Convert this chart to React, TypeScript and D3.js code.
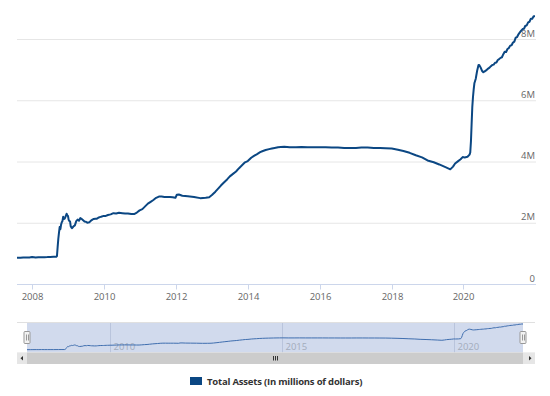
import React from "react";
import * as d3 from "d3";

// Fed balance sheet, total assets, millions of dollars
const totalAssets: [string, number][] = [
  ["2007-08-01", 870000], ["2007-09-05", 872000], ["2007-10-03", 880000], ["2007-11-07", 884000],
  ["2007-12-05", 883000], ["2008-01-02", 900000], ["2008-02-06", 885000], ["2008-03-05", 893000],
  ["2008-04-02", 889000], ["2008-05-07", 893000], ["2008-06-04", 895000], ["2008-07-02", 899000],
  ["2008-08-06", 903000], ["2008-09-03", 905000], ["2008-09-10", 928000], ["2008-09-17", 1225000],
  ["2008-09-24", 1499000], ["2008-10-01", 1700000], ["2008-10-08", 1880000], ["2008-10-15", 1805000],
  ["2008-10-22", 1955000], ["2008-10-29", 2030000], ["2008-11-05", 2070000], ["2008-11-12", 2210000],
  ["2008-11-19", 2140000], ["2008-11-26", 2145000], ["2008-12-03", 2190000], ["2008-12-10", 2250000],
  ["2008-12-17", 2310000], ["2008-12-24", 2260000], ["2008-12-31", 2240000], ["2009-01-07", 2110000],
  ["2009-01-14", 2070000], ["2009-01-21", 2060000], ["2009-01-28", 1900000], ["2009-02-04", 1860000],
  ["2009-02-11", 1840000], ["2009-02-25", 1900000], ["2009-03-11", 1930000], ["2009-03-25", 2070000],
  ["2009-04-08", 2120000], ["2009-04-22", 2080000], ["2009-05-06", 2170000], ["2009-05-20", 2140000],
  ["2009-06-03", 2100000], ["2009-06-17", 2060000], ["2009-07-01", 2050000], ["2009-07-15", 2020000],
  ["2009-08-05", 2030000], ["2009-08-19", 2080000], ["2009-09-02", 2110000], ["2009-09-16", 2140000],
  ["2009-10-07", 2150000], ["2009-10-21", 2150000], ["2009-11-04", 2180000], ["2009-11-18", 2200000],
  ["2009-12-02", 2210000], ["2009-12-30", 2240000], ["2010-01-20", 2240000], ["2010-02-10", 2270000],
  ["2010-03-10", 2290000], ["2010-04-07", 2330000], ["2010-05-05", 2320000], ["2010-06-02", 2340000],
  ["2010-07-07", 2330000], ["2010-08-04", 2320000], ["2010-09-01", 2320000], ["2010-10-06", 2300000],
  ["2010-11-03", 2300000], ["2010-12-01", 2350000], ["2010-12-29", 2420000], ["2011-01-26", 2460000],
  ["2011-02-23", 2550000], ["2011-03-23", 2640000], ["2011-04-20", 2700000], ["2011-05-18", 2760000],
  ["2011-06-15", 2830000], ["2011-07-13", 2870000], ["2011-08-10", 2870000], ["2011-09-07", 2860000],
  ["2011-10-05", 2860000], ["2011-11-02", 2860000], ["2011-11-30", 2850000], ["2011-12-28", 2830000],
  ["2012-01-11", 2930000], ["2012-02-01", 2940000], ["2012-03-07", 2900000], ["2012-05-02", 2880000],
  ["2012-07-04", 2860000], ["2012-09-05", 2820000], ["2012-10-31", 2830000], ["2012-12-05", 2850000],
  ["2013-01-02", 2920000], ["2013-02-06", 3030000], ["2013-03-06", 3130000], ["2013-04-03", 3230000],
  ["2013-05-01", 3320000], ["2013-06-05", 3430000], ["2013-07-03", 3530000], ["2013-08-07", 3620000],
  ["2013-09-04", 3690000], ["2013-10-02", 3790000], ["2013-11-06", 3900000], ["2013-12-04", 3990000],
  ["2014-01-01", 4030000], ["2014-02-05", 4140000], ["2014-03-05", 4200000], ["2014-04-02", 4250000],
  ["2014-05-07", 4320000], ["2014-06-04", 4360000], ["2014-07-02", 4390000], ["2014-08-06", 4420000],
  ["2014-09-03", 4440000], ["2014-10-01", 4460000], ["2014-11-05", 4480000], ["2014-12-03", 4490000],
  ["2015-01-07", 4500000], ["2015-03-04", 4480000], ["2015-05-06", 4480000], ["2015-07-01", 4490000],
  ["2015-09-02", 4480000], ["2015-11-04", 4480000], ["2016-01-06", 4480000], ["2016-03-02", 4480000],
  ["2016-05-04", 4470000], ["2016-07-06", 4470000], ["2016-09-07", 4460000], ["2016-11-02", 4460000],
  ["2017-01-04", 4460000], ["2017-03-01", 4470000], ["2017-05-03", 4470000], ["2017-07-05", 4460000],
  ["2017-09-06", 4460000], ["2017-11-01", 4450000], ["2018-01-03", 4440000], ["2018-03-07", 4400000],
  ["2018-05-02", 4360000], ["2018-07-04", 4300000], ["2018-09-05", 4220000], ["2018-11-07", 4150000],
  ["2019-01-02", 4050000], ["2019-03-06", 3990000], ["2019-05-01", 3920000], ["2019-07-03", 3830000],
  ["2019-08-21", 3760000], ["2019-09-18", 3850000], ["2019-10-09", 3950000], ["2019-11-06", 4020000],
  ["2019-12-04", 4090000], ["2019-12-25", 4160000], ["2020-01-15", 4150000], ["2020-02-12", 4170000],
  ["2020-03-04", 4240000], ["2020-03-11", 4310000], ["2020-03-18", 4670000], ["2020-03-25", 5250000],
  ["2020-04-01", 5810000], ["2020-04-08", 6130000], ["2020-04-15", 6370000], ["2020-04-22", 6570000],
  ["2020-05-06", 6720000], ["2020-05-20", 6980000], ["2020-06-03", 7170000], ["2020-06-10", 7170000],
  ["2020-06-24", 7090000], ["2020-07-08", 6980000], ["2020-07-22", 6930000], ["2020-08-05", 6960000],
  ["2020-08-19", 6990000], ["2020-09-09", 7050000], ["2020-09-23", 7080000], ["2020-10-07", 7130000],
  ["2020-10-21", 7170000], ["2020-11-04", 7180000], ["2020-11-18", 7240000], ["2020-12-02", 7250000],
  ["2020-12-16", 7330000], ["2020-12-30", 7360000], ["2021-01-13", 7400000], ["2021-01-27", 7420000],
  ["2021-02-10", 7520000], ["2021-02-24", 7600000], ["2021-03-10", 7590000], ["2021-03-24", 7690000],
  ["2021-04-07", 7720000], ["2021-04-21", 7800000], ["2021-05-05", 7810000], ["2021-05-19", 7900000],
  ["2021-06-02", 7930000], ["2021-06-16", 8060000], ["2021-06-30", 8080000], ["2021-07-14", 8170000],
  ["2021-07-28", 8230000], ["2021-08-11", 8290000], ["2021-08-25", 8340000], ["2021-09-08", 8350000],
  ["2021-09-22", 8450000], ["2021-10-06", 8460000], ["2021-10-20", 8560000], ["2021-11-03", 8580000],
  ["2021-11-17", 8680000], ["2021-12-01", 8680000], ["2021-12-15", 8760000], ["2021-12-29", 8760000],
];

const yTicks = [0, 2000000, 4000000, 6000000, 8000000];
const xTickYears = [2008, 2010, 2012, 2014, 2016, 2018, 2020];
const navTickYears = [2010, 2015, 2020];
const seriesName = "Total Assets (In millions of dollars)";

const W = 550;
const H = 396;
const FONT = "'Open Sans', 'DejaVu Sans', sans-serif";

const parse = d3.timeParse("%Y-%m-%d");
const points = totalAssets.map(([d, v]) => ({ date: parse(d) as Date, value: v }));

export default function App() {
  const extent = d3.extent(points, (p) => p.date) as [Date, Date];

  // main plot
  const plot = { left: 17, right: 536, top: 10, bottom: 284.5 };
  const x = d3.scaleTime().domain(extent).range([plot.left, 535]);
  const y = d3.scaleLinear().domain([0, 8000000]).range([plot.bottom, 39.5]);
  const line = d3
    .line<{ date: Date; value: number }>()
    .x((p) => x(p.date))
    .y((p) => y(p.value));

  // navigator
  const nav = { left: 17, right: 535, top: 322.5, bottom: 352.5 };
  const nx = d3.scaleTime().domain(extent).range([27, 523]);
  const ny = d3
    .scaleLinear()
    .domain([0, d3.max(points, (p) => p.value) as number])
    .range([nav.bottom, nav.top + 1.5]);
  const navLine = d3
    .line<{ date: Date; value: number }>()
    .x((p) => nx(p.date))
    .y((p) => ny(p.value));

  const yFmt = (v: number) => (v === 0 ? "0" : `${v / 1000000}M`);
  const sb = { top: 352.5, h: 11.5 };
  const thumbL = nx(extent[0]);
  const thumbR = nx(extent[1]);
  const gripX = (thumbL + thumbR) / 2;

  return (
    <svg
      width={W}
      height={H}
      style={{ position: "absolute", left: 0, top: 0, background: "#fff" }}
      fontFamily={FONT}
    >
      {/* grid + y labels */}
      {yTicks.map((t) => (
        <g key={t}>
          {t !== 0 && (
            <line x1={plot.left} x2={plot.right} y1={y(t)} y2={y(t)} stroke="#e6e6e6" strokeWidth={1} />
          )}
          <text x={535} y={y(t) - 3} textAnchor="end" fontSize={9.5} fill="#666">
            {yFmt(t)}
          </text>
        </g>
      ))}

      {/* x axis */}
      <line x1={plot.left} x2={plot.right} y1={plot.bottom} y2={plot.bottom} stroke="#ccd6eb" strokeWidth={1} />
      {xTickYears.map((yr) => {
        const px = Math.round(x(new Date(yr, 0, 1))) + 0.5;
        return (
          <g key={yr}>
            <line x1={px} x2={px} y1={plot.bottom} y2={plot.bottom + 5} stroke="#ccd6eb" />
            <text x={px} y={300} textAnchor="middle" fontSize={9.5} fill="#666">
              {yr}
            </text>
          </g>
        );
      })}

      {/* series */}
      <path d={line(points) ?? ""} fill="none" stroke="#0b4783" strokeWidth={2} strokeLinejoin="round" />

      {/* navigator */}
      <rect x={nav.left} y={nav.top} width={nav.right - nav.left} height={nav.bottom - nav.top} fill="#fff" />
      <rect
        x={thumbL}
        y={nav.top}
        width={thumbR - thumbL}
        height={nav.bottom - nav.top}
        fill="rgba(102,133,194,0.3)"
      />
      {navTickYears.map((yr) => {
        const px = Math.round(nx(new Date(yr, 0, 1))) + 0.5;
        return (
          <g key={yr}>
            <line x1={px} x2={px} y1={nav.top} y2={nav.bottom} stroke="#b9c4dc" strokeWidth={1} />
            <text x={px + 3} y={350} fontSize={9.5} fill="#a3acbc">
              {yr}
            </text>
          </g>
        );
      })}
      <path d={navLine(points) ?? ""} fill="none" stroke="#3f6eaf" strokeWidth={1} />
      <line x1={nav.left} x2={nav.right} y1={nav.top} y2={nav.top} stroke="#e0e0e0" />

      {/* handles */}
      {[thumbL, thumbR].map((hx, i) => (
        <g key={i}>
          <rect x={hx - 3} y={331.5} width={6} height={12} fill="#f2f2f2" stroke="#999" strokeWidth={1} rx={1} />
          <line x1={hx - 0.5} x2={hx - 0.5} y1={334.5} y2={340.5} stroke="#999" />
          <line x1={hx + 1.5} x2={hx + 1.5} y1={334.5} y2={340.5} stroke="#999" />
        </g>
      ))}

      {/* scrollbar */}
      <rect x={nav.left} y={sb.top} width={nav.right - nav.left} height={sb.h} fill="#f2f2f2" />
      <rect x={thumbL} y={sb.top} width={thumbR - thumbL} height={sb.h} fill="#cccccc" />
      <rect x={nav.left} y={sb.top} width={thumbL - nav.left} height={sb.h} fill="#e6e6e6" />
      <rect x={thumbR} y={sb.top} width={nav.right - thumbR} height={sb.h} fill="#e6e6e6" />
      <path
        d={`M${nav.left + 6},${sb.top + 3.5} L${nav.left + 6},${sb.top + 8} L${nav.left + 3.5},${sb.top + 5.75} Z`}
        fill="#333"
      />
      <path
        d={`M${nav.right - 6},${sb.top + 3.5} L${nav.right - 6},${sb.top + 8} L${nav.right - 3.5},${sb.top + 5.75} Z`}
        fill="#333"
      />
      {[-2, 0, 2].map((o) => (
        <line
          key={o}
          x1={gripX + o + 0.5}
          x2={gripX + o + 0.5}
          y1={sb.top + 3.5}
          y2={sb.top + 8}
          stroke="#333"
          strokeWidth={1}
        />
      ))}

      {/* legend */}
      <rect x={190} y={377} width={12} height={8} fill="#0b4783" />
      <text x={207} y={385} fontSize={9.5} fontWeight="bold" letterSpacing={-0.2} fill="#333">
        {seriesName}
      </text>
    </svg>
  );
}
